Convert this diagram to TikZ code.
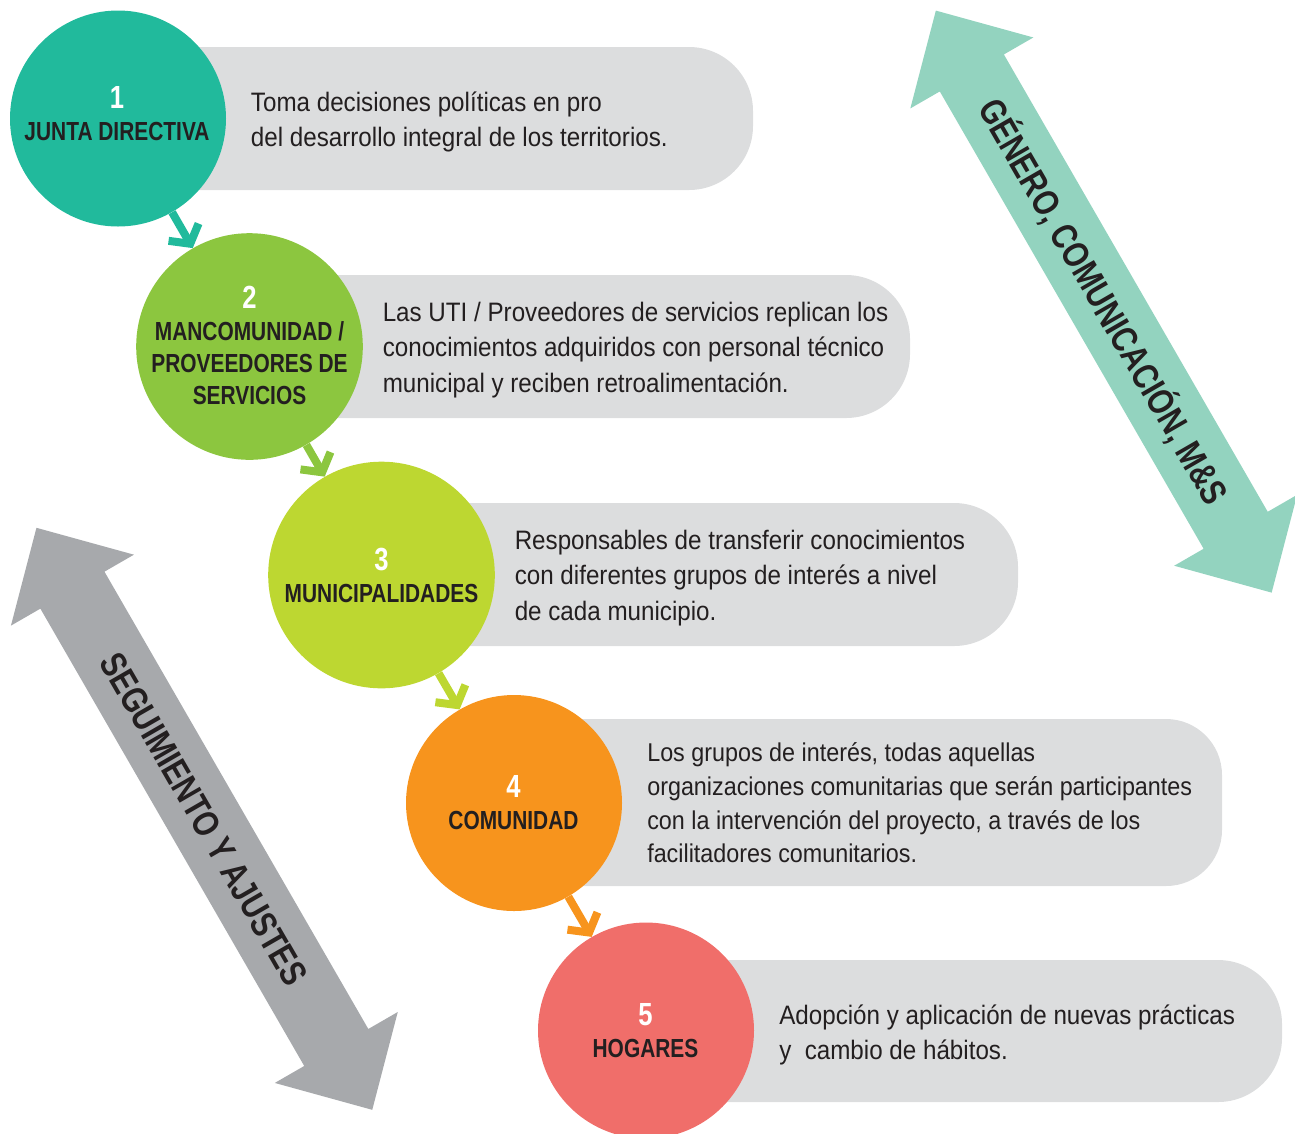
\documentclass[tikz,border=0pt]{standalone}
\usepackage{fontspec}
\setmainfont{Liberation Sans}[FakeStretch=0.907]
\newfontfamily\condbold{Liberation Sans}[FakeStretch=0.8]
\usetikzlibrary{arrows.meta}
\definecolor{col1}{HTML}{21BA9C}
\definecolor{col2}{HTML}{8CC63F}
\definecolor{col3}{HTML}{BDD731}
\definecolor{col4}{HTML}{F7941D}
\definecolor{col5}{HTML}{F06E6A}
\definecolor{pillgray}{HTML}{DCDDDE}
\definecolor{bandgreen}{HTML}{93D3BF}
\definecolor{bandgray}{HTML}{A7A9AC}
\definecolor{txt}{HTML}{231F20}
\newcommand{\circnum}[1]{{\fontsize{24}{24}\selectfont\color{white}#1}}
\begin{document}
\begin{tikzpicture}[x=0.75pt,y=-0.75pt,
  pill/.style={fill=pillgray, rounded corners=48pt},
  circ/.style={circle, inner sep=0pt, draw=none},
  lab/.style={align=center, inner sep=0pt, text=txt, font=\condbold\bfseries\fontsize{19.6}{24}\selectfont},
  desc/.style={anchor=west, align=left, inner sep=0pt, text=txt},
  conn/.style={line width=6pt, -{Straight Barb[length=10pt,width=26pt,sharp]}},
  bandtext/.style={inner sep=0pt, rotate=-60, text=txt, text height=19.8pt, text depth=0pt, font=\condbold\bfseries\fontsize{27.6}{30}\selectfont}
]
\useasboundingbox (0,0) rectangle (1295,1133);

% description pills
\fill[pill] (118,47) rectangle (753,190);
\fill[pill] (249.5,275) rectangle (910,418);
\fill[pill] (381.5,503) rectangle (1018,646);
\fill[pill, rounded corners=42pt] (514,719) rectangle (1222,886);
\fill[pill] (646,960) rectangle (1282,1102);

% circles
\node[circ, fill=col1, minimum size=162pt] (c1) at (118,118.5) {};
\node[circ, fill=col2, minimum size=170pt] (c2) at (249.5,346.5) {};
\node[circ, fill=col3, minimum size=170pt] (c3) at (381.5,575) {};
\node[circ, fill=col4, minimum size=162pt] (c4) at (514,803) {};
\node[circ, fill=col5, minimum size=162pt] (c5) at (646,1030.5) {};

% circle labels
\node[lab] (l1) at (117,114) {\circnum{1}\\JUNTA DIRECTIVA};
\node[lab] (l2) at (249.5,345) {\circnum{2}\\MANCOMUNIDAD /\\PROVEEDORES DE\\SERVICIOS};
\node[lab] (l3) at (381.5,575) {\circnum{3}\\MUNICIPALIDADES};
\node[lab] (l4) at (513.5,803) {\circnum{4}\\COMUNIDAD};
\node[lab] (l5) at (645.5,1031) {\circnum{5}\\HOGARES};

% descriptions
\node[desc, font=\fontsize{20}{26.25}\selectfont] (t1) at (250.7,122.2)
  {Toma decisiones políticas en pro\\del desarrollo integral de los territorios.};
\node[desc, font=\fontsize{20}{26.6}\selectfont] (t2) at (382.5,350)
  {Las UTI / Proveedores de servicios replican los\\conocimientos adquiridos con personal técnico\\municipal y reciben retroalimentación.};
\node[desc, font=\fontsize{20}{26.6}\selectfont] (t3) at (514.5,578)
  {Responsables de transferir conocimientos\\con diferentes grupos de interés a nivel\\de cada municipio.};
\node[desc, font=\fontsize{19.3}{25.3}\selectfont] (t4) at (647,803)
  {Los grupos de interés, todas aquellas\\organizaciones comunitarias que serán participantes\\con la intervención del proyecto, a través de los\\facilitadores comunitarios.};
\node[desc, font=\fontsize{20}{26.25}\selectfont] (t5) at (779,1035)
  {Adopción y aplicación de nuevas prácticas\\y\ \ cambio de hábitos.};

% connectors
\draw[conn, col1] (c1) -- (c2);
\draw[conn, col2] (c2) -- (c3);
\draw[conn, col3] (c3) -- (c4);
\draw[conn, col4] (c4) -- (c5);

% big double arrows
\coordinate (gc) at (1103.75,301.6);
\coordinate (sc) at (204.35,818.8);
\begin{scope}[shift={(gc)}, x={(0.37478pt,-0.64958pt)}, y={(0.64958pt,0.37478pt)}]
  \fill[bandgreen] (336,0) -- (264,71) -- (264,37) -- (-264,37) -- (-264,71) -- (-336,0)
     -- (-264,-71) -- (-264,-37) -- (264,-37) -- (264,-71) -- cycle;
\end{scope}
\node[bandtext] (g) at (gc) {GÉNERO, COMUNICACIÓN, M\&S};
\begin{scope}[shift={(sc)}, x={(0.37478pt,-0.64958pt)}, y={(0.64958pt,0.37478pt)}]
  \fill[bandgray] (336,0) -- (264,71) -- (264,37) -- (-264,37) -- (-264,71) -- (-336,0)
     -- (-264,-71) -- (-264,-37) -- (264,-37) -- (264,-71) -- cycle;
\end{scope}
\node[bandtext] (s) at (sc) {SEGUIMIENTO Y AJUSTES};
\end{tikzpicture}
\end{document}
